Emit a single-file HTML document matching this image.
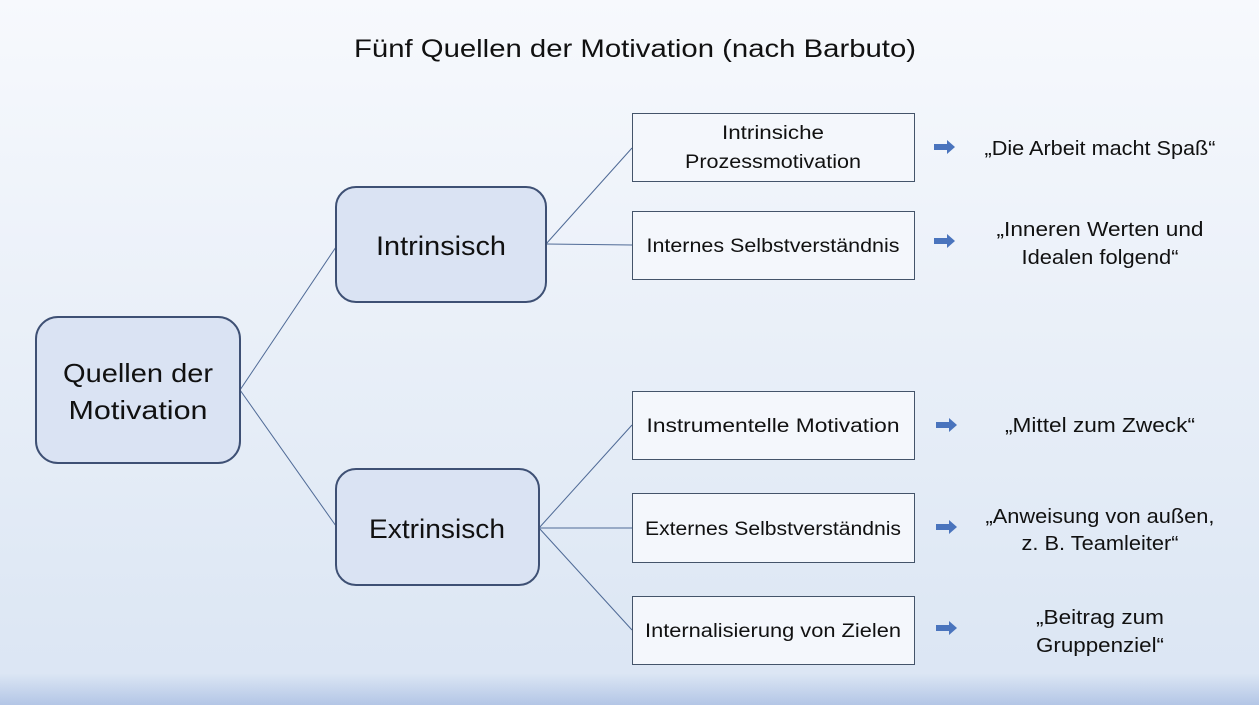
<!DOCTYPE html>
<html><head><meta charset="utf-8"><style>
html,body{margin:0;padding:0;width:1259px;height:705px;overflow:hidden}
svg{display:block}
text{font-family:"Liberation Sans",sans-serif;fill:#111}
</style></head><body>
<svg width="1259" height="705" viewBox="0 0 1259 705" xmlns="http://www.w3.org/2000/svg">
<defs>
<linearGradient id="bg" x1="0" y1="0" x2="0" y2="1">
<stop offset="0" stop-color="#f7f9fd"/>
<stop offset="0.9" stop-color="#dde7f4"/>
<stop offset="0.955" stop-color="#dce6f4"/>
<stop offset="1" stop-color="#b3c6e6"/>
</linearGradient>
<g id="ar"><path d="M0,-3 H13 V-7 L21,0 L13,7 V3 H0 Z" fill="#4a74bd"/></g>
</defs>
<rect width="1259" height="705" fill="url(#bg)"/>
<text x="635" y="57" font-size="25" text-anchor="middle" textLength="562" lengthAdjust="spacingAndGlyphs">Fünf Quellen der Motivation (nach Barbuto)</text>

<g stroke="#4f6a96" stroke-width="1" fill="none">
<line x1="240" y1="390" x2="336" y2="247"/>
<line x1="240" y1="390" x2="336" y2="526"/>
<line x1="546" y1="244" x2="632" y2="148"/>
<line x1="546" y1="244" x2="632" y2="245"/>
<line x1="539" y1="528" x2="632" y2="425"/>
<line x1="539" y1="528" x2="632" y2="528"/>
<line x1="539" y1="528" x2="632" y2="630"/>
</g>

<g fill="#dae3f3" stroke="#3e5074" stroke-width="2">
<rect x="36" y="317" width="204" height="146" rx="22"/>
<rect x="336" y="187" width="210" height="115" rx="20"/>
<rect x="336" y="469" width="203" height="116" rx="20"/>
</g>
<g fill="#f4f7fc" stroke="#44546a" stroke-width="1">
<rect x="632.5" y="113.5" width="282" height="68"/>
<rect x="632.5" y="211.5" width="282" height="68"/>
<rect x="632.5" y="391.5" width="282" height="68"/>
<rect x="632.5" y="493.5" width="282" height="69"/>
<rect x="632.5" y="596.5" width="282" height="68"/>
</g>

<text x="138" y="382" font-size="26" text-anchor="middle" textLength="150" lengthAdjust="spacingAndGlyphs">Quellen der</text>
<text x="138" y="419" font-size="26" text-anchor="middle" textLength="139" lengthAdjust="spacingAndGlyphs">Motivation</text>
<text x="441" y="255" font-size="27" text-anchor="middle" textLength="130" lengthAdjust="spacingAndGlyphs">Intrinsisch</text>
<text x="437" y="538" font-size="27" text-anchor="middle" textLength="136" lengthAdjust="spacingAndGlyphs">Extrinsisch</text>

<g font-size="19" text-anchor="middle">
<text x="773" y="139" textLength="102" lengthAdjust="spacingAndGlyphs">Intrinsiche</text>
<text x="773" y="168" textLength="176" lengthAdjust="spacingAndGlyphs">Prozessmotivation</text>
<text x="773" y="252" textLength="253" lengthAdjust="spacingAndGlyphs">Internes Selbstverständnis</text>
<text x="773" y="432" textLength="253" lengthAdjust="spacingAndGlyphs">Instrumentelle Motivation</text>
<text x="773" y="535" textLength="256" lengthAdjust="spacingAndGlyphs">Externes Selbstverständnis</text>
<text x="773" y="637" textLength="256" lengthAdjust="spacingAndGlyphs">Internalisierung von Zielen</text>
</g>

<use href="#ar" x="934" y="147"/>
<use href="#ar" x="934" y="241"/>
<use href="#ar" x="936" y="425"/>
<use href="#ar" x="936" y="527"/>
<use href="#ar" x="936" y="628"/>

<g font-size="20" text-anchor="middle">
<text x="1100" y="155" textLength="231" lengthAdjust="spacingAndGlyphs">„Die Arbeit macht Spaß“</text>
<text x="1100" y="236" textLength="207" lengthAdjust="spacingAndGlyphs">„Inneren Werten und</text>
<text x="1100" y="264" textLength="157" lengthAdjust="spacingAndGlyphs">Idealen folgend“</text>
<text x="1100" y="432" textLength="190" lengthAdjust="spacingAndGlyphs">„Mittel zum Zweck“</text>
<text x="1100" y="523" textLength="229" lengthAdjust="spacingAndGlyphs">„Anweisung von außen,</text>
<text x="1100" y="550" textLength="157" lengthAdjust="spacingAndGlyphs">z. B. Teamleiter“</text>
<text x="1100" y="624" textLength="128" lengthAdjust="spacingAndGlyphs">„Beitrag zum</text>
<text x="1100" y="652" textLength="128" lengthAdjust="spacingAndGlyphs">Gruppenziel“</text>
</g>
</svg>
</body></html>
